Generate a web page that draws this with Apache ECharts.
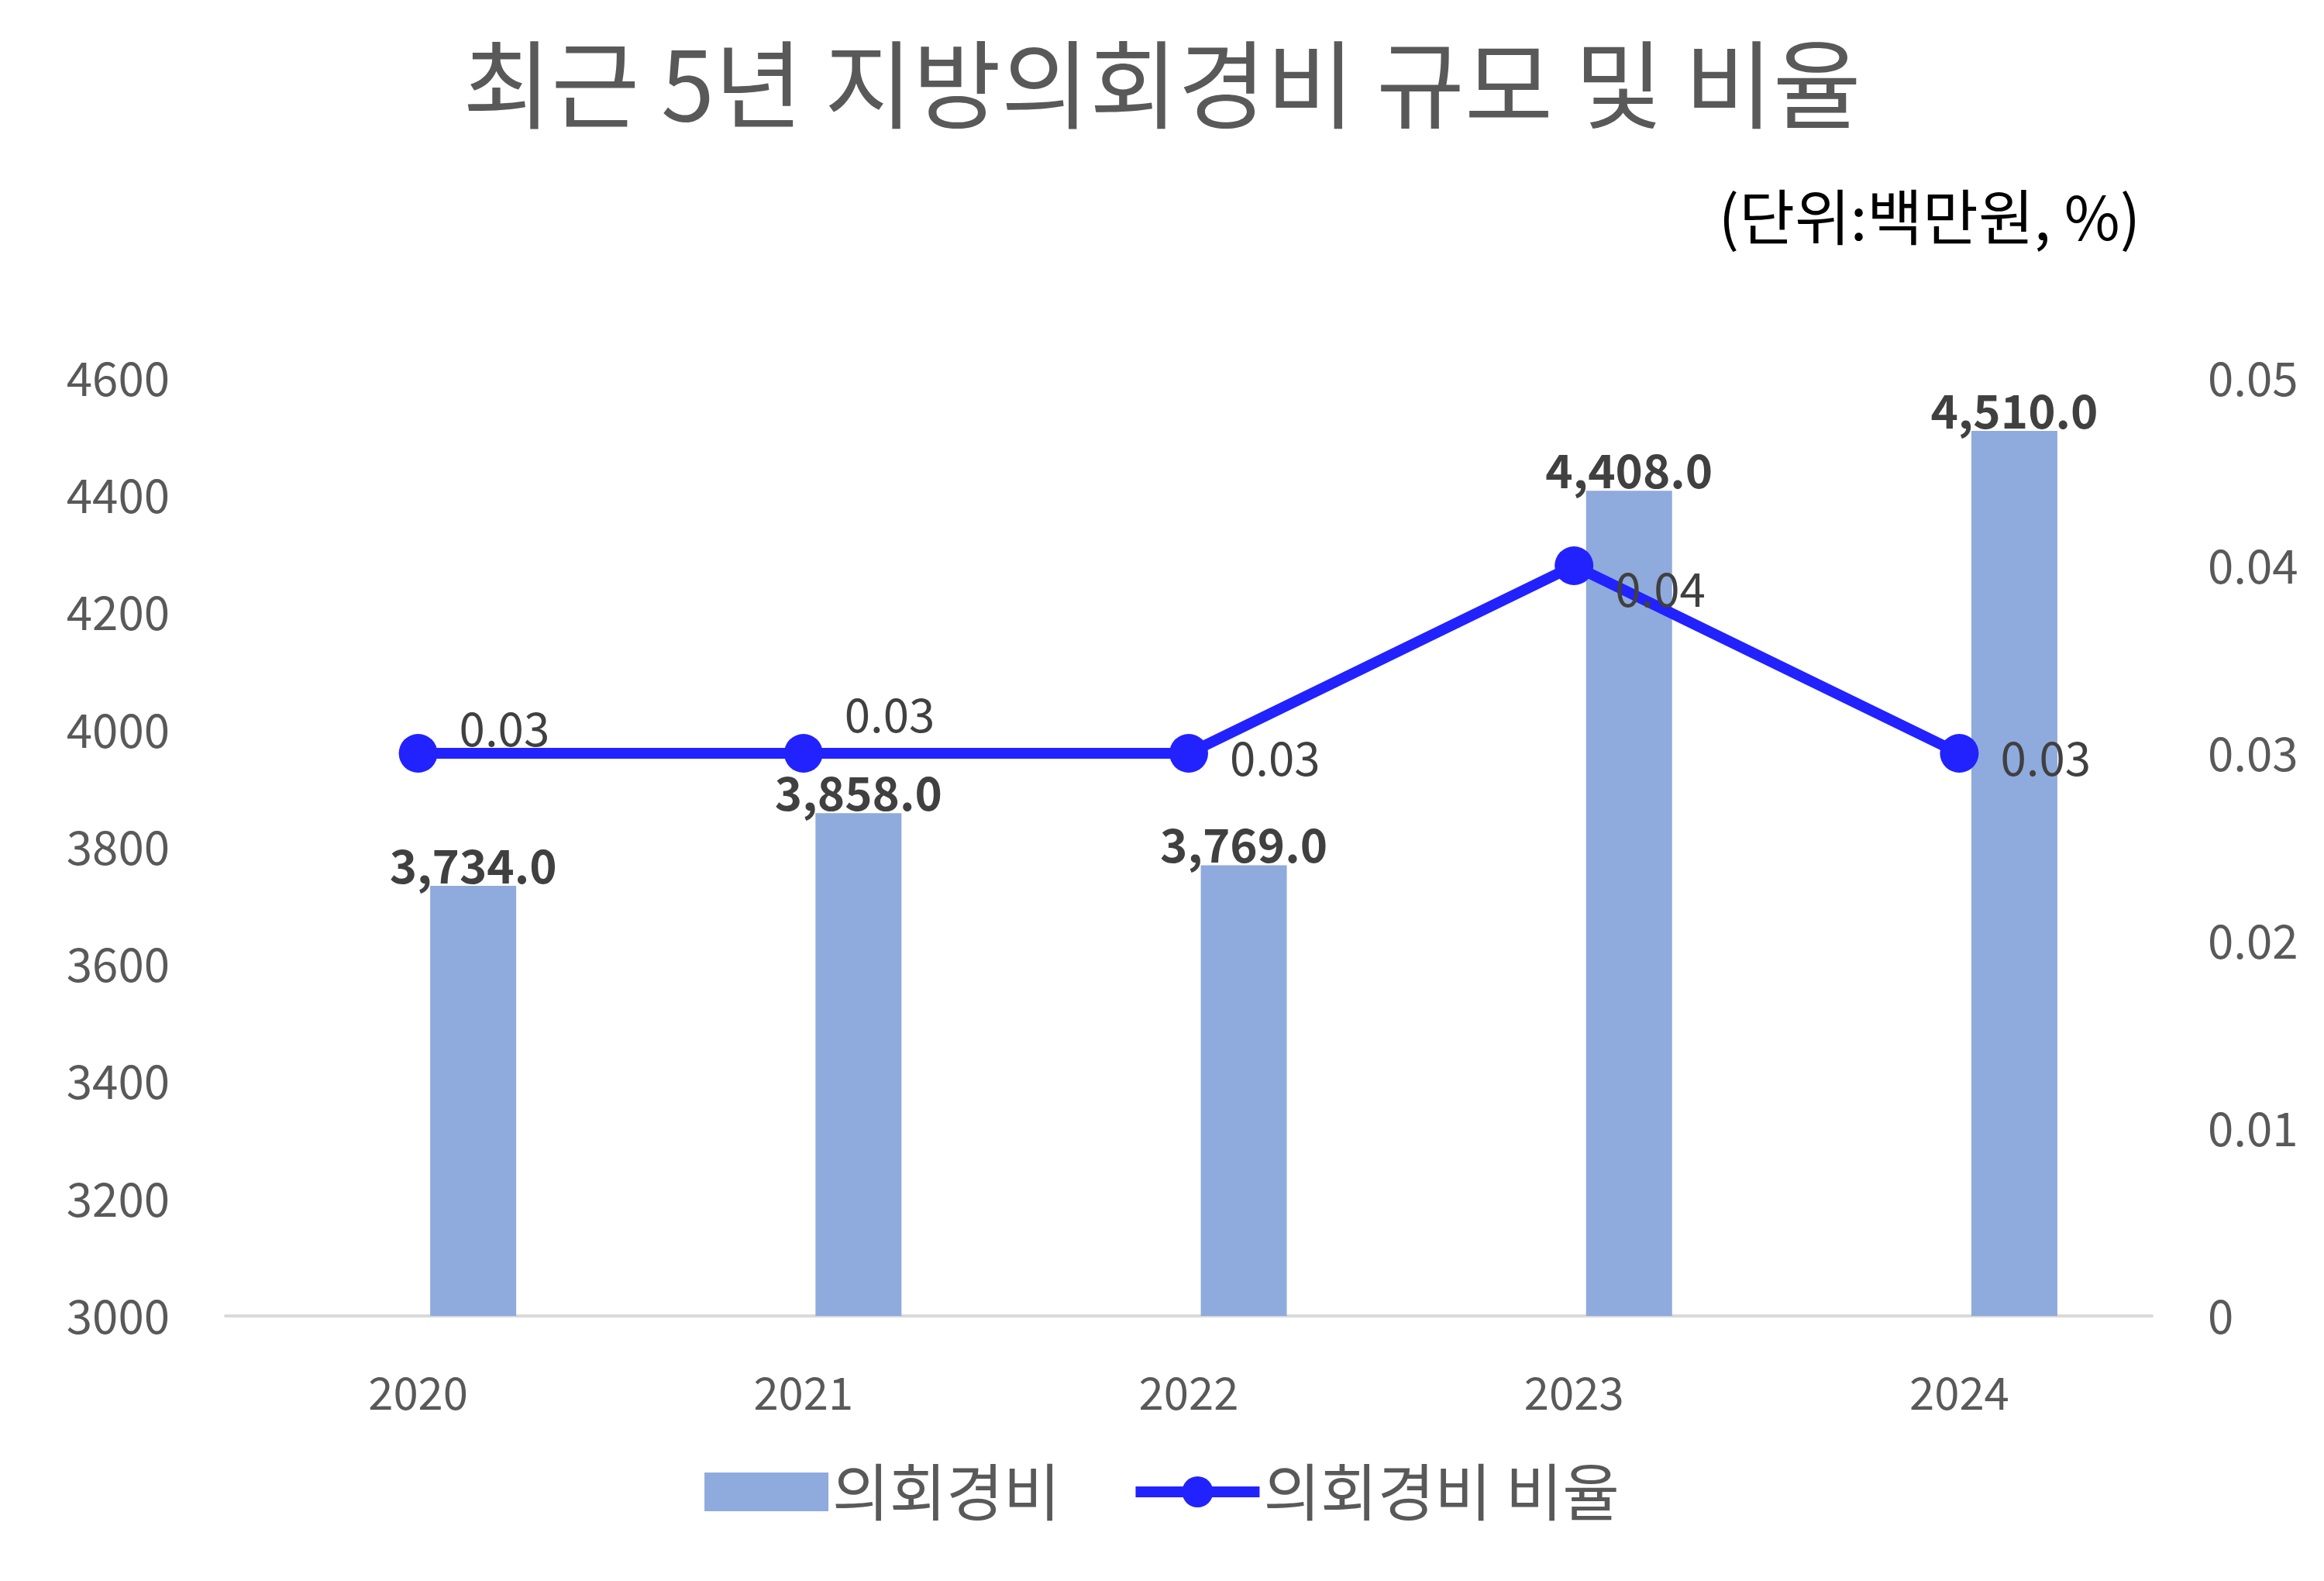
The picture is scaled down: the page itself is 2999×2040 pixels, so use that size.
<!DOCTYPE html>
<html><head><meta charset="utf-8">
<script src="https://cdn.jsdelivr.net/npm/echarts@6/dist/echarts.min.js"></script>
<style>html,body{margin:0;background:#fff}#c{width:2999px;height:2040px}</style>
</head><body><div id="c"></div>
<script>
const categories = ['2020','2021','2022','2023','2024'];
const expense = [3734, 3858, 3769, 4408, 4510];
const ratio = [0.03, 0.03, 0.03, 0.04, 0.03];
const ghost = [3000, null, null, null, null];
const lineLabelOffsets = [[0,-32],[0,-50],[0,6],[0,30],[0,6]];

const font = "'Noto Sans CJK KR','Noto Sans',sans-serif";
const chart = echarts.init(document.getElementById('c'));
chart.setOption({
  textStyle:{fontFamily:font},
  title:[
    {text:'최근 5년 지방의회경비 규모 및 비율',left:'center',top:42,textStyle:{fontSize:124,fontWeight:'normal',color:'#595959',fontFamily:font}},
    {text:'(단위:백만원, %)',right:232,top:236,textStyle:{fontSize:78,fontWeight:'normal',color:'#000',fontFamily:font}}
  ],
  grid:{left:291,right:222,top:488,bottom:342},
  legend:{bottom:70,left:'center',itemGap:90,
    textStyle:{fontSize:80,color:'#595959',fontFamily:font},
    data:[
      {name:'의회경비',icon:'rect',itemWidth:160,itemHeight:42},
      {name:'의회경비 비율',itemWidth:160,itemHeight:50,itemStyle:{color:'#2222FF'},lineStyle:{width:14,color:'#2222FF'}}
    ],
    itemWidth:160,itemHeight:50},
  xAxis:{type:'category',data:categories,
    axisLine:{lineStyle:{color:'#D9D9D9',width:4}},axisTick:{show:false},
    axisLabel:{fontSize:58,color:'#595959',margin:70,fontFamily:font}},
  yAxis:[
    {type:'value',min:3000,max:4600,interval:200,splitLine:{show:false},
     axisLabel:{fontSize:60,color:'#595959',margin:72,fontFamily:font,formatter:v=>String(v)}},
    {type:'value',min:0,max:0.05,interval:0.01,splitLine:{show:false},
     axisLabel:{fontSize:60,color:'#595959',margin:72,align:'left',fontFamily:font,
       formatter:v=>v===0?'0':v.toFixed(2)}}
  ],
  series:[
    {name:'ghost',type:'bar',data:ghost,barWidth:111,barGap:'28%',itemStyle:{color:'#8FAADC'},silent:true},
    {name:'의회경비',type:'bar',data:expense,barWidth:111,itemStyle:{color:'#8FAADC'},
     label:{show:true,position:'top',distance:-4,fontSize:60,fontWeight:'bold',color:'#404040',fontFamily:font,
       formatter:p=>p.value.toLocaleString('en-US',{minimumFractionDigits:1,maximumFractionDigits:1})}},
    {name:'의회경비 비율',type:'line',yAxisIndex:1,data:ratio.map((v,i)=>({value:v,label:{offset:lineLabelOffsets[i]}})),
     lineStyle:{color:'#2222FF',width:14},itemStyle:{color:'#2222FF'},symbol:'circle',symbolSize:50,
     label:{show:true,position:'right',distance:28,fontSize:60,color:'#404040',fontFamily:font,
       formatter:p=>p.value.toFixed(2)}}
  ]
});
</script></body></html>
